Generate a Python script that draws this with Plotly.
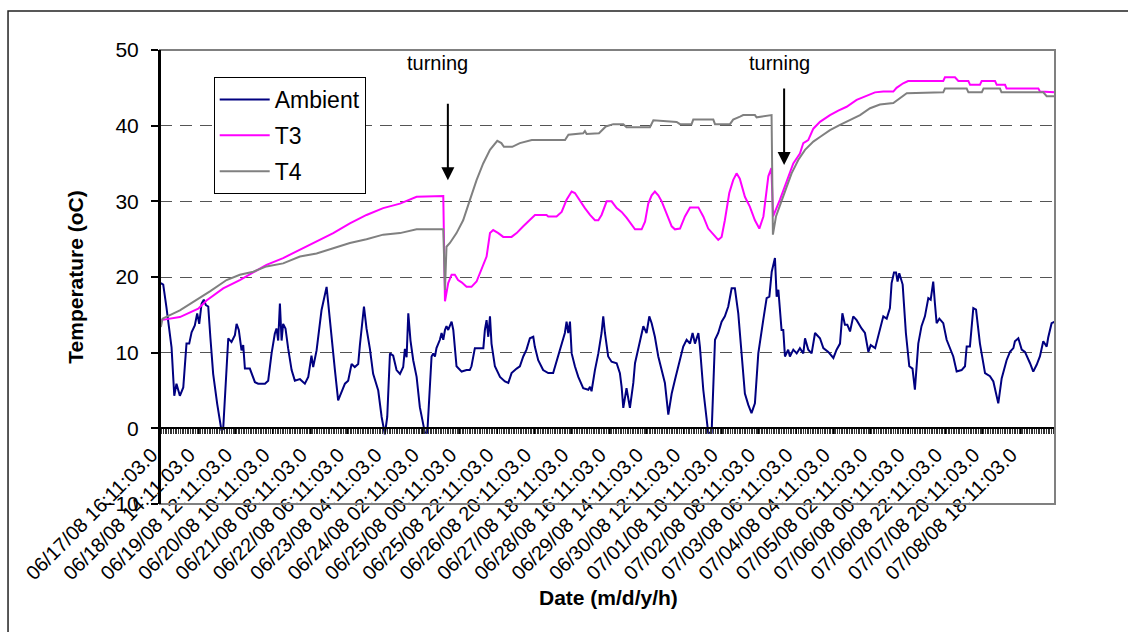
import plotly.graph_objects as go

# ---------------- data (hour offset from 06/17/08 16:11, temperature oC) ----------------
amb_hours = [0.0, 1.4, 3.3, 5.3, 6.3, 7.9, 9.2, 11.2, 13.2, 15.1, 16.7, 18.1, 20.0, 21.4, 22.6, 24.0, 25.3, 26.5, 27.9,
             29.2, 30.8, 33.2, 35.7, 36.7, 38.3, 39.7, 41.6, 43.6, 44.6, 45.9, 47.5, 48.5, 49.5, 52.4, 55.4, 57.3, 61.3,
             63.2, 65.2, 67.1, 68.1, 69.1, 70.1, 71.1, 72.0, 73.4, 75.0, 77.0, 78.9, 81.9, 84.8, 86.8, 88.7, 89.7, 91.7,
             94.6, 97.6, 99.1, 100.5, 102.5, 104.4, 106.4, 108.4, 110.3, 112.3, 114.2, 116.2, 117.2, 119.6, 121.1,
             123.1, 125.0, 128.0, 130.0, 131.9, 133.3, 134.9, 136.8, 138.8, 140.8, 142.7, 143.7, 144.7, 145.7, 147.0,
             148.6, 150.6, 152.5, 155.5, 156.9, 159.4, 160.4, 161.4, 162.3, 164.3, 165.3, 166.3, 167.3, 168.2, 169.2,
             171.2, 172.2, 174.1, 177.1, 180.0, 181.9, 182.9, 184.9, 186.9, 189.9, 190.8, 191.8, 192.8, 193.8, 194.7,
             196.7, 199.7, 202.6, 204.6, 206.5, 209.5, 211.4, 213.4, 215.3, 217.3, 219.3, 220.2, 222.2, 225.1, 228.1,
             231.0, 234.0, 235.9, 237.9, 238.9, 239.9, 240.9, 241.9, 243.8, 245.8, 248.7, 251.7, 252.7, 253.6, 255.6,
             257.6, 259.5, 260.5, 261.5, 263.4, 265.4, 268.4, 270.3, 271.3, 272.3, 274.2, 276.2, 278.2, 279.2, 280.1,
             282.1, 284.1, 286.0, 287.6, 289.0, 290.9, 292.9, 294.9, 296.8, 298.8, 300.8, 302.7, 304.7, 307.6, 309.6,
             311.6, 313.1, 314.5, 316.5, 317.4, 319.4, 321.4, 322.3, 324.3, 326.3, 328.2, 330.2, 332.1, 334.1, 336.1,
             338.0, 340.0, 341.9, 343.9, 345.9, 347.8, 349.8, 351.8, 354.7, 356.7, 358.3, 359.7, 361.6, 362.6, 363.6,
             365.5, 366.5, 367.5, 369.4, 370.4, 372.4, 374.4, 376.3, 378.3, 379.3, 381.2, 383.2, 385.2, 388.1, 390.1,
             393.0, 396.0, 397.9, 399.9, 401.3, 402.8, 404.2, 405.8, 407.7, 409.7, 412.6, 414.6, 416.6, 418.0, 420.6,
             423.5, 425.4, 427.4, 429.3, 430.3, 431.7, 432.9, 433.8, 434.8, 436.8, 438.7, 440.7, 442.6, 444.0, 446.0,
             447.9, 449.9, 451.9, 453.3, 454.8, 455.8, 456.8, 458.4, 460.7, 462.7, 464.7, 466.6, 468.6, 471.5, 473.5,
             474.5, 476.4, 478.4, 480.0, 482.3, 485.3, 488.2, 490.2, 493.1, 495.1, 498.0, 500.0, 502.0, 502.9, 504.9,
             506.9, 508.8, 511.8, 513.7, 515.7, 517.6, 519.6, 521.6, 522.5, 524.5, 526.4]
amb_temp = [19.2, 19.0, 16.0, 12.0, 10.7, 4.3, 5.9, 4.3, 5.4, 11.2, 11.2, 12.7, 13.6, 15.2, 13.8, 16.5, 17.0, 16.3, 16.1,
            11.9, 7.2, 3.2, -0.3, -0.1, 6.3, 11.9, 11.4, 12.3, 13.8, 13.0, 10.3, 11.0, 7.9, 7.9, 6.1, 5.9, 5.9,
            6.3, 9.9, 12.5, 13.2, 11.6, 16.5, 11.6, 13.8, 13.2, 10.5, 7.7, 6.3, 6.5, 5.9, 6.8, 9.6, 8.1, 10.3,
            15.6, 18.7, 15.0, 12.1, 7.7, 3.7, 4.8, 5.9, 6.3, 8.5, 8.1, 8.5, 11.0, 16.1, 13.2,
            10.5, 7.2, 5.0, 1.5, -0.8, 1.5, 9.9, 9.6, 7.7, 7.2, 8.1, 10.5, 9.4, 15.2, 11.6,
            9.0, 6.8, 2.8, -0.6, -0.6, 9.5, 9.9, 9.5, 10.6, 11.7, 12.6, 11.7, 13.0, 13.5, 13.0,
            14.1, 13.0, 8.2, 7.5, 7.7, 7.7, 8.2, 10.6, 10.6, 10.6, 13.0, 14.3, 12.1, 14.8, 11.2,
            8.2, 6.8, 6.2, 6.0, 7.3, 7.9, 8.2, 9.5, 10.4, 11.9, 12.1, 10.8, 9.0, 7.7, 7.3,
            7.3, 9.5, 11.2, 12.6, 14.1, 12.6, 14.1, 9.9, 8.2, 6.8, 5.3, 5.1, 5.5, 4.9, 7.7,
            9.9, 12.6, 14.8, 12.6, 9.5, 8.8, 8.6, 7.3, 5.5, 2.7, 5.3, 2.7, 6.0, 8.6, 9.5,
            11.7, 13.5, 12.6, 14.8, 13.9, 12.1, 9.5, 7.7, 6.0, 1.8, 4.6, 6.4, 8.2, 10.8, 11.7,
            11.2, 12.6, 11.2, 12.6, 10.8, 5.1, 1.6, -0.6, -0.6, 11.7, 12.6, 14.1, 14.8, 16.1, 18.5,
            18.5, 15.2, 9.9, 4.6, 3.1, 2.0, 3.3, 9.9, 14.3, 17.2, 17.4, 20.7, 22.5, 17.4, 18.3,
            13.0, 13.0, 9.5, 10.4, 9.5, 10.4, 9.9, 10.6, 9.9, 11.9, 10.4, 9.9, 12.6, 11.9, 10.6,
            10.1, 9.3, 10.4, 11.2, 15.2, 13.7, 13.7, 12.8, 14.8, 14.3, 13.2, 12.6, 10.1, 11.0, 10.6,
            13.0, 14.8, 14.5, 15.9, 19.2, 20.6, 20.6, 19.4, 20.5, 19.0, 12.6, 8.2, 7.9, 5.1, 11.2,
            13.5, 14.8, 17.2, 17.0, 19.4, 16.5, 13.9, 14.5, 13.9, 11.7, 10.6, 9.5, 7.5, 7.7, 8.2,
            10.8, 10.8, 15.9, 15.7, 11.2, 7.3, 6.9, 6.2, 3.3, 6.6, 9.0, 10.1, 10.6, 11.5, 11.9,
            10.4, 10.1, 8.6, 7.5, 8.4, 9.5, 11.5, 10.8, 12.0, 13.9, 14.1]

t3_hours = [0.0, 11.2, 22.0, 26.9, 36.7, 46.5, 54.4, 62.2, 72.0, 81.9, 91.7, 101.5, 111.3, 121.1, 130.9, 140.8, 150.6,
            166.3, 167.3, 169.2, 171.2, 173.1, 175.0, 177.1, 180.0, 182.9, 185.9, 187.8, 189.8, 191.8, 193.8, 195.7,
            198.7, 201.6, 206.5, 209.5, 213.4, 216.3, 220.3, 227.1, 228.1, 233.0, 236.0, 238.9, 241.9, 243.8, 246.8,
            249.7, 252.7, 255.6, 257.6, 259.5, 262.5, 265.4, 268.4, 271.3, 274.3, 277.2, 279.2, 283.1, 285.1, 287.0,
            289.0, 290.9, 292.9, 294.9, 297.8, 300.8, 302.7, 305.7, 308.6, 311.6, 316.5, 319.4, 322.3, 325.3, 328.2,
            330.2, 332.1, 334.7, 337.0, 339.0, 340.9, 343.9, 346.8, 349.8, 352.4, 354.8, 357.7, 359.5, 360.5, 364.5,
            368.5, 372.4, 376.3, 378.3, 381.2, 384.2, 388.1, 394.0, 398.9, 403.8, 409.7, 415.6, 420.5, 425.4, 431.3,
            433.2, 437.1, 440.0, 460.7, 461.7, 467.6, 469.6, 475.5, 476.5, 482.3, 483.3, 491.2, 492.2, 497.1, 498.0,
            516.7, 517.7, 526.4]
t3_temp = [14.3, 14.7, 15.8, 16.9, 18.5, 19.6, 20.6, 21.6, 22.5, 23.6, 24.7, 25.8, 27.1, 28.2, 29.1, 29.7, 30.6,
           30.7, 16.8, 19.2, 20.3, 20.3, 19.6, 19.3, 18.7, 18.7, 19.4, 20.5, 21.6, 22.7, 25.8, 26.2,
           25.8, 25.3, 25.3, 25.8, 26.7, 27.3, 28.2, 28.2, 28.0, 28.0, 28.6, 30.2, 31.3, 31.1, 30.0,
           29.1, 28.2, 27.5, 27.5, 28.2, 30.0, 30.0, 29.1, 28.6, 27.8, 26.9, 26.3, 26.3, 27.3, 29.7,
           30.8, 31.3, 30.8, 30.0, 28.4, 26.7, 26.3, 26.4, 28.0, 29.2, 29.2, 28.0, 26.4, 25.6, 24.9,
           25.3, 27.5, 31.1, 32.8, 33.7, 33.0, 30.6, 29.3, 27.5, 26.4, 28.0, 33.3, 34.4, 28.0, 30.2,
           32.6, 35.0, 36.3, 37.7, 38.1, 39.6, 40.5, 41.4, 42.0, 42.5, 43.4, 44.0, 44.4, 44.5, 44.5,
           45.0, 45.6, 45.9, 45.9, 46.4, 46.4, 45.9, 45.9, 45.4, 45.4, 45.9, 45.9, 45.4, 45.4, 44.9,
           44.9, 44.5, 44.4]

t4_hours = [0.0, 1.0, 11.2, 23.0, 28.9, 38.7, 46.5, 54.4, 62.2, 72.0, 81.9, 91.7, 101.5, 111.3, 121.1, 130.9, 140.8,
            150.6, 166.3, 167.3, 168.2, 170.2, 174.1, 178.0, 182.0, 185.9, 189.8, 193.8, 198.1, 200.5, 202.0, 206.9,
            211.4, 218.4, 238.0, 240.0, 248.7, 249.7, 250.7, 258.0, 262.0, 266.4, 272.3, 274.2, 288.0, 290.0, 303.7,
            305.7, 312.5, 313.5, 325.3, 326.3, 335.1, 337.0, 341.0, 342.9, 349.8, 350.8, 359.6, 360.4, 362.2, 365.5,
            368.5, 371.4, 375.4, 379.3, 384.2, 388.1, 394.0, 399.9, 405.8, 411.7, 417.6, 423.4, 431.3, 435.2, 439.2,
            460.7, 461.7, 474.5, 475.5, 483.4, 484.4, 494.1, 495.0, 519.6, 521.6, 526.4]
t4_temp = [13.4, 14.5, 15.6, 17.2, 18.1, 19.6, 20.3, 20.7, 21.4, 21.8, 22.7, 23.1, 23.8, 24.5, 25.0, 25.6, 25.8,
           26.3, 26.3, 18.3, 24.0, 24.5, 25.8, 27.5, 30.2, 32.8, 35.0, 36.8, 38.0, 37.7, 37.2, 37.2,
           37.7, 38.1, 38.1, 38.8, 39.0, 39.3, 38.9, 39.0, 39.9, 40.2, 40.2, 39.8, 39.8, 40.7, 40.5,
           40.2, 40.2, 40.8, 40.8, 40.2, 40.2, 40.8, 41.2, 41.4, 41.4, 41.1, 41.4, 25.6, 28.0, 30.2,
           31.9, 33.7, 35.5, 36.8, 37.9, 38.5, 39.4, 40.1, 40.8, 41.4, 42.3, 42.8, 43.0, 43.7, 44.3,
           44.4, 44.9, 44.9, 44.4, 44.4, 44.9, 44.9, 44.4, 44.4, 43.9, 43.9]

label_hours = [0, 22, 44, 66, 88, 110, 132, 154, 176, 198, 220, 242, 264, 286, 308, 330, 352, 374, 396, 418, 440,
               462, 484, 506]
date_labels = ["06/17/08 16:11:03.0", "06/18/08 14:11:03.0", "06/19/08 12:11:03.0", "06/20/08 10:11:03.0",
               "06/21/08 08:11:03.0", "06/22/08 06:11:03.0", "06/23/08 04:11:03.0", "06/24/08 02:11:03.0",
               "06/25/08 00:11:03.0", "06/25/08 22:11:03.0", "06/26/08 20:11:03.0", "06/27/08 18:11:03.0",
               "06/28/08 16:11:03.0", "06/29/08 14:11:03.0", "06/30/08 12:11:03.0", "07/01/08 10:11:03.0",
               "07/02/08 08:11:03.0", "07/03/08 06:11:03.0", "07/04/08 04:11:03.0", "07/05/08 02:11:03.0",
               "07/06/08 00:11:03.0", "07/06/08 22:11:03.0", "07/07/08 20:11:03.0", "07/08/08 18:11:03.0"]
turning_hours = [169, 367]

FONT = "Liberation Sans, Arial, sans-serif"

fig = go.Figure()
fig.add_trace(go.Scatter(x=amb_hours, y=amb_temp, mode="lines", name="Ambient", legendgroup="a",
                         line=dict(color="#000080", width=2)))
fig.add_trace(go.Scatter(x=t3_hours, y=t3_temp, mode="lines", name="T3", legendgroup="b",
                         line=dict(color="#FF00FF", width=2)))
fig.add_trace(go.Scatter(x=t4_hours, y=t4_temp, mode="lines", name="T4", legendgroup="c",
                         line=dict(color="#808080", width=2)))

fig.update_layout(
    template="none",
    width=1128, height=632,
    margin=dict(l=160, r=73, t=50, b=128, autoexpand=False),
    paper_bgcolor="white", plot_bgcolor="white",
    font=dict(family=FONT, color="black", size=20),
    showlegend=True,
    legend=dict(x=0.06, y=0.9405, xanchor="left", yanchor="top",
                bordercolor="black", borderwidth=1, bgcolor="white",
                font=dict(family=FONT, size=23, color="black"),
                itemwidth=50,
                traceorder="grouped", tracegroupgap=3),
    xaxis=dict(range=[-0.5, 526.5], anchor="free", position=1/6, automargin=False,
               showline=True, linecolor="black", linewidth=2,
               showgrid=False, zeroline=False,
               tickmode="array", tickvals=label_hours, ticktext=date_labels,
               tickangle=-45, ticks="outside", ticklen=5, tickcolor="black", tickwidth=1,
               ticklabelstandoff=1, ticklabelshift=-9,
               tickfont=dict(family=FONT, size=20, color="black"),
               minor=dict(ticks="outside", ticklen=5, tickcolor="#333", tickwidth=1,
                          tick0=0.5, dtick=1, showgrid=False)),
    yaxis=dict(range=[-10, 50], dtick=10, tick0=0, automargin=False,
               showline=True, linecolor="black", linewidth=2,
               ticks="outside", ticklen=7, tickcolor="black", tickwidth=1.5,
               ticklabelstandoff=8,
               tickfont=dict(family=FONT, size=21, color="black"),
               showgrid=True, gridcolor="#555555", gridwidth=1.3, griddash="12px,8px",
               zeroline=False,
               title=dict(text="Temperature (oC)", standoff=14,
                          font=dict(family=FONT, size=21, color="black", weight="bold"))),
)

# plot-area border (grey) and outer chart border
fig.add_shape(type="rect", xref="paper", yref="paper", x0=0, x1=1, y0=0, y1=1,
              line=dict(color="#808080", width=2), layer="above")
fig.add_shape(type="line", xref="paper", yref="paper", x0=0, x1=0, y0=0, y1=1,
              line=dict(color="black", width=2), layer="above")
fig.add_shape(type="rect", xref="paper", yref="paper", x0=-0.1698, x1=1.2, y0=-0.6, y1=1.0859,
              line=dict(color="#222222", width=1.5), layer="below")

# x-axis title
fig.add_annotation(text="<b>Date (m/d/y/h)</b>", xref="paper", yref="paper", x=0.5006, y=-0.207,
                   yanchor="middle", xanchor="center",
                   showarrow=False, font=dict(family=FONT, size=21, color="black"))

# turning arrows and labels
for h in turning_hours:
    fig.add_annotation(text="", x=h, y=32.8 if h < 300 else 34.8, ax=h, ay=43.1 if h < 300 else 45.1,
                       xref="x", yref="y", axref="x", ayref="y",
                       showarrow=True, arrowhead=2, arrowsize=1.3, arrowwidth=2, arrowcolor="black")
    fig.add_annotation(text="turning", x=h - 6 if h < 300 else h - 3, y=48.3, xref="x", yref="y",
                       showarrow=False, font=dict(family=FONT, size=20, color="black"))

fig.write_html("out.html")
